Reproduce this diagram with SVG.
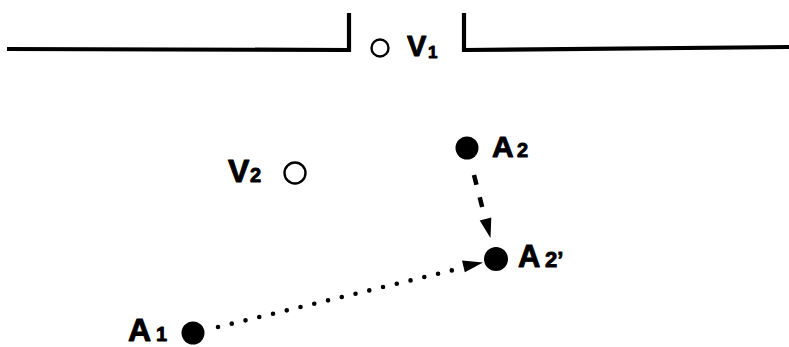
<svg xmlns="http://www.w3.org/2000/svg" width="789" height="347" viewBox="0 0 789 347">
<style>
.wall{fill:none;stroke:#000;stroke-width:4.2;stroke-linejoin:miter;stroke-linecap:butt}
.open{fill:#fff;stroke:#000;stroke-width:2.4}
.solid{fill:#000}
.lbl{font-family:"Liberation Sans",Arial,sans-serif;font-weight:bold;fill:#000;stroke:#000;stroke-width:0.9;stroke-linejoin:round}
.dash{stroke:#000;stroke-width:4.5;fill:none;stroke-dasharray:10 13}
.dots{stroke:#000;stroke-width:4.6;fill:none;stroke-linecap:round;stroke-dasharray:0 14.15}
</style>
<rect width="789" height="347" fill="#fff"/>
<g id="walls">
<path class="wall" d="M7,49 L349,50 L349,13"/>
<path class="wall" d="M464,13 L464,50 L789,47"/>
</g>
<g id="V1">
<circle class="open" cx="380" cy="48" r="8.5"/>
<text class="lbl" font-size="29"><tspan x="407" y="56">V</tspan><tspan x="428" y="58" font-size="17">1</tspan></text>
</g>
<g id="V2">
<circle class="open" cx="295" cy="173" r="10.5"/>
<text class="lbl" font-size="32"><tspan x="228" y="182">V</tspan><tspan x="250" y="182" font-size="20">2</tspan></text>
</g>
<g id="A2">
<circle class="solid" cx="467" cy="148" r="11.5"/>
<text class="lbl" font-size="30"><tspan x="492" y="157">A</tspan><tspan x="517" y="157" font-size="20">2</tspan></text>
</g>
<g id="A2p">
<circle class="solid" cx="496" cy="259" r="12"/>
<text class="lbl" font-size="31"><tspan x="518" y="267">A</tspan><tspan x="545" y="267" font-size="22">2’</tspan></text>
</g>
<g id="A1">
<circle class="solid" cx="193" cy="333" r="11.5"/>
<text class="lbl" font-size="32"><tspan x="128" y="341">A</tspan><tspan x="156" y="341" font-size="20">1</tspan></text>
</g>
<g id="connectors">
<line class="dash" x1="474" y1="175" x2="485" y2="218"/>
<polygon class="solid" points="490.5,238 491.3,217.6 479.7,220.4"/>
<line class="dots" x1="218" y1="327" x2="453.5" y2="270"/>
<polygon class="solid" points="483,262.5 462,260.5 464.8,272.2"/>
</g>
</svg>
